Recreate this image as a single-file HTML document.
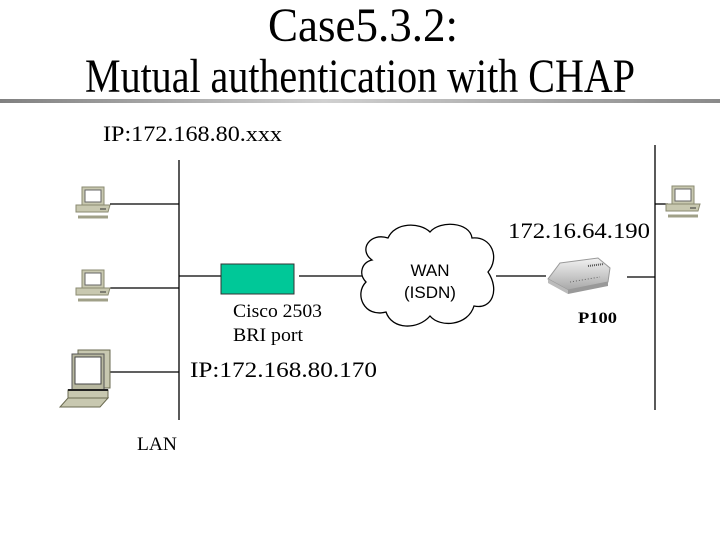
<!DOCTYPE html>
<html><head><meta charset="utf-8"><style>
html,body{margin:0;padding:0;background:#fff;width:720px;height:540px;overflow:hidden}
</style></head><body>
<svg width="720" height="540" viewBox="0 0 720 540" xmlns="http://www.w3.org/2000/svg">
<defs>
<linearGradient id="g" x1="0" x2="1" y1="0" y2="0">
<stop offset="0" stop-color="#808080"/><stop offset="0.45" stop-color="#d0d0d0"/><stop offset="1" stop-color="#8a8a8a"/>
</linearGradient>
<linearGradient id="r" x1="0" x2="0" y1="0" y2="1">
<stop offset="0" stop-color="#f2f2f2"/><stop offset="1" stop-color="#a8a8a8"/>
</linearGradient>
<g id="pc">
<rect x="6" y="0" width="22" height="18" fill="#c8c8b0" stroke="#8a8a70"/>
<rect x="9" y="3" width="16" height="12" fill="#fff" stroke="#666"/>
<polygon points="0,18 34,18 32,25 0,25" fill="#c8c8b0" stroke="#8a8a70"/>
<line x1="2" y1="30" x2="32" y2="30" stroke="#a0a088" stroke-width="3"/>
<line x1="24" y1="22" x2="30" y2="22" stroke="#333"/>
</g>
</defs>
<g font-family="Liberation Serif, serif" fill="#000">
<text x="363" y="41" font-size="48" text-anchor="middle" textLength="190" lengthAdjust="spacingAndGlyphs">Case5.3.2:</text>
<text x="360" y="92" font-size="48" text-anchor="middle" textLength="550" lengthAdjust="spacingAndGlyphs">Mutual authentication with CHAP</text>
</g>
<rect x="0" y="99" width="720" height="4" fill="url(#g)"/>
<g stroke="#000" stroke-width="1.3" fill="none">
<line x1="179" y1="160" x2="179" y2="420"/>
<line x1="655" y1="145" x2="655" y2="410"/>
<line x1="110" y1="204" x2="179" y2="204"/>
<line x1="110" y1="288" x2="179" y2="288"/>
<line x1="110" y1="372" x2="179" y2="372"/>
<line x1="179" y1="276" x2="221" y2="276"/>
<line x1="299" y1="276" x2="362" y2="276"/>
<line x1="496" y1="276" x2="546" y2="276"/>
<line x1="627" y1="277" x2="655" y2="277"/>
<line x1="655" y1="204" x2="668" y2="204"/>
</g>
<use href="#pc" x="76" y="187"/>
<use href="#pc" x="76" y="270"/>
<use href="#pc" x="666" y="186"/>
<g>
<rect x="78" y="350" width="32" height="38" fill="#c8c8b0" stroke="#6a6a50"/>
<rect x="72" y="354" width="32" height="36" fill="#b8b8a0" stroke="#555"/>
<rect x="75" y="357" width="26" height="27" fill="#fff" stroke="#444"/>
<rect x="68" y="390" width="40" height="8" fill="#c8c8b0" stroke="#6a6a50"/>
<line x1="68" y1="390" x2="108" y2="390" stroke="#222" stroke-width="2"/>
<polygon points="68,398 108,398 100,407 60,407" fill="#c8c8b0" stroke="#6a6a50"/>
</g>
<rect x="221" y="264" width="73" height="30" fill="#00c898" stroke="#333"/>
<path d="M372,260 C358,250 370,232 388,238 C395,222 420,222 430,232 C440,220 470,222 472,238 C492,236 500,258 488,272 C500,290 492,310 474,306 C468,326 440,328 430,316 C418,330 392,330 386,312 C364,318 354,294 366,282 C358,274 362,262 372,260 Z" fill="#fff" stroke="#000" stroke-width="1.3"/>
<g font-family="Liberation Sans, sans-serif" font-size="17" text-anchor="middle" fill="#000">
<text x="430" y="276">WAN</text>
<text x="430" y="298">(ISDN)</text>
</g>
<g>
<polygon points="560,263 598,258 610,268 608,282 568,290 548,279" fill="url(#r)" stroke="#999"/>
<polygon points="548,279 568,290 568,294 548,283" fill="#bbb"/>
<polygon points="568,290 608,282 608,286 568,294" fill="#999"/>
<line x1="588" y1="266" x2="604" y2="264" stroke="#555" stroke-dasharray="1,1" stroke-width="2"/>
<line x1="570" y1="282" x2="600" y2="277" stroke="#666" stroke-dasharray="1,2"/>
</g>
<g font-family="Liberation Serif, serif" fill="#000">
<text x="103" y="141" font-size="22" textLength="179" lengthAdjust="spacingAndGlyphs">IP:172.168.80.xxx</text>
<text x="508" y="238" font-size="22" textLength="142" lengthAdjust="spacingAndGlyphs">172.16.64.190</text>
<text x="233" y="317" font-size="19" textLength="89" lengthAdjust="spacingAndGlyphs">Cisco 2503</text>
<text x="233" y="341" font-size="19" textLength="70" lengthAdjust="spacingAndGlyphs">BRI port</text>
<text x="190" y="377" font-size="22" textLength="187" lengthAdjust="spacingAndGlyphs">IP:172.168.80.170</text>
<text x="137" y="450" font-size="19" textLength="40" lengthAdjust="spacingAndGlyphs">LAN</text>
<text x="578" y="323" font-size="16" font-weight="bold" textLength="39" lengthAdjust="spacingAndGlyphs">P100</text>
</g>
</svg>
</body></html>
